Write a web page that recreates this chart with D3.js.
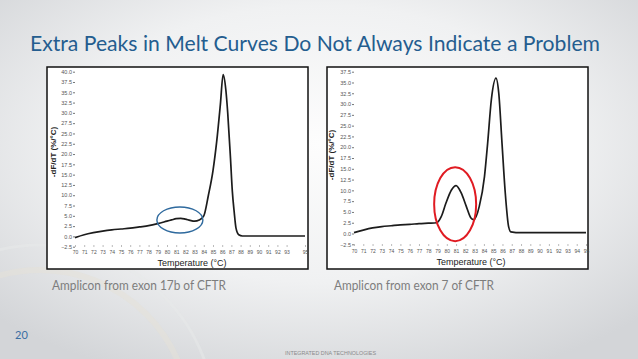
<!DOCTYPE html>
<html>
<head>
<meta charset="utf-8">
<script src="https://cdn.jsdelivr.net/npm/d3@7"></script>
<style>
  html, body { margin: 0; padding: 0; }
  body { width: 638px; height: 359px; overflow: hidden; }
</style>
</head>
<body>
<div id="slide"></div>
<script>
// exon 17b melt curve (left panel)
var leftTemps  = [70, 71, 72, 73, 74, 75, 76, 77, 78, 79, 80, 80.5, 81, 81.5, 82, 82.5, 83, 83.5, 84, 84.5, 85, 85.4, 85.8, 86.1, 86.4, 86.6, 86.9, 87.1, 87.3, 87.5, 87.8, 88.2, 90, 92, 95];
var leftValues = [-0.3, 0.4, 0.9, 1.3, 1.6, 1.8, 2.0, 2.3, 2.6, 3.1, 3.7, 4.0, 4.3, 4.4, 4.2, 3.9, 3.7, 4.0, 5.0, 10, 16, 23, 32, 39.3, 35.5, 30, 19, 11, 6, 2, 0.4, 0.1, 0.1, 0.1, 0.1];

// exon 7 melt curve (right panel)
var rightTemps  = [70, 71, 72, 73, 74, 75, 76, 77, 78, 78.9, 79.4, 79.9, 80.5, 81.0, 81.55, 82.1, 82.6, 82.9, 83.5, 84.06, 84.4, 84.8, 85.3, 85.6, 85.95, 86.3, 86.66, 86.9, 88, 91, 95];
var rightValues = [0.2, 0.8, 1.3, 1.6, 1.8, 2.0, 2.1, 2.3, 2.4, 2.5, 3.9, 7.0, 10.1, 11.1, 9.4, 6.3, 3.6, 3.2, 6.3, 13.2, 20.9, 31, 36.0, 32.5, 20.9, 9.4, 1.6, 0.4, 0.2, 0.2, 0.2];

var leftXTicks  = [70, 71, 72, 73, 74, 75, 76, 77, 78, 79, 80, 81, 82, 83, 84, 85, 86, 87, 88, 89, 90, 91, 92, 93, 95];
var rightXTicks = [70, 71, 72, 73, 74, 75, 76, 77, 78, 79, 80, 81, 82, 83, 84, 85, 86, 87, 88, 89, 90, 91, 92, 93, 94, 95];
var leftYTicks  = d3.range(-2.5, 40.01, 2.5);
var rightYTicks = d3.range(-2.5, 37.51, 2.5);

var titleText = "Extra Peaks in Melt Curves Do Not Always Indicate a Problem";
var captions  = ["Amplicon from exon 17b of CFTR", "Amplicon from exon 7 of CFTR"];

var w = 638, h = 359;

var svg = d3.select("#slide").append("svg")
  .attr("width", w)
  .attr("height", h);

// slide background
var defs = svg.append("defs");
var grad = defs.append("radialGradient")
  .attr("id", "bg")
  .attr("cx", "50%").attr("cy", "40%").attr("r", "70%");
grad.append("stop").attr("offset", "0%").attr("stop-color", "#fdfdfd");
grad.append("stop").attr("offset", "55%").attr("stop-color", "#f0f1f2");
grad.append("stop").attr("offset", "100%").attr("stop-color", "#d3d5d8");
svg.append("rect").attr("width", w).attr("height", h).attr("fill", "url(#bg)");

// faint arcs bottom left
svg.append("circle").attr("cx", 40).attr("cy", 420).attr("r", 150)
  .attr("fill", "none").attr("stroke", "#e6e2d8").attr("stroke-width", 6).attr("opacity", 0.5);
svg.append("circle").attr("cx", 40).attr("cy", 420).attr("r", 175)
  .attr("fill", "none").attr("stroke", "#e8e9ea").attr("stroke-width", 3).attr("opacity", 0.5);

svg.append("text")
  .attr("x", 30)
  .attr("y", 51)
  .attr("textLength", 570)
  .attr("lengthAdjust", "spacingAndGlyphs")
  .style("font-family", "Lato, 'Open Sans', sans-serif")
  .style("font-size", "21px")
  .style("fill", "#245d8f")
  .text(titleText);

function drawPanel(opts) {
  var g = svg.append("g");

  g.append("rect")
    .attr("x", opts.box[0])
    .attr("y", 67)
    .attr("width", opts.box[1] - opts.box[0])
    .attr("height", 202)
    .attr("fill", "white")
    .attr("stroke", "#111")
    .attr("stroke-width", 1.5);

  var x = d3.scaleLinear().domain([70, 95]).range(opts.xRange);
  var y = d3.scaleLinear().domain(opts.yDomain).range(opts.yRange);

  // y axis
  var yAxis = g.append("g")
    .attr("transform", "translate(" + x(70) + ",0)")
    .call(d3.axisLeft(y).tickValues(opts.yTicks).tickSize(2).tickPadding(1)
      .tickFormat(d3.format(".1f")));
  yAxis.select(".domain").remove();
  yAxis.selectAll("line").attr("stroke", "#777");
  yAxis.selectAll("text")
    .style("font-family", "'Liberation Sans', Arial, sans-serif")
    .style("font-size", "5.5px")
    .style("fill", "#555");

  // x axis
  var xAxis = g.append("g")
    .attr("transform", "translate(0," + opts.xAxisY + ")")
    .call(d3.axisBottom(x).tickValues(opts.xTicks).tickSize(2).tickPadding(3)
      .tickFormat(d3.format("d")));
  xAxis.select(".domain").remove();
  xAxis.selectAll("line").attr("stroke", "#bbb");
  xAxis.selectAll("text")
    .style("font-family", "'Liberation Sans', Arial, sans-serif")
    .style("font-size", "5px")
    .style("fill", "#555");

  g.append("text")
    .attr("x", opts.xTitle[0])
    .attr("y", opts.xTitle[1])
    .attr("text-anchor", "middle")
    .style("font-family", "'Liberation Sans', Arial, sans-serif")
    .style("font-size", "9px")
    .style("fill", "#222")
    .text("Temperature (°C)");

  g.append("text")
    .attr("transform", "translate(" + opts.yTitle[0] + "," + opts.yTitle[1] + ") rotate(-90)")
    .attr("text-anchor", "middle")
    .style("font-family", "'Liberation Sans', Arial, sans-serif")
    .style("font-size", "8px")
    .style("font-weight", "bold")
    .style("fill", "#222")
    .text("-dF/dT (%/°C)");

  var line = d3.line()
    .x(function(d) { return x(d[0]); })
    .y(function(d) { return y(d[1]); })
    .curve(d3.curveMonotoneX);

  var pts = d3.zip(opts.temps, opts.values);
  g.append("path")
    .datum(pts)
    .attr("d", line)
    .attr("fill", "none")
    .attr("stroke", "#1c1c1c")
    .attr("stroke-width", 1.7)
    .attr("stroke-linejoin", "round");

  // highlight ring
  g.append("ellipse")
    .attr("cx", x(opts.ring.t))
    .attr("cy", y(opts.ring.v))
    .attr("rx", opts.ring.rx)
    .attr("ry", opts.ring.ry)
    .attr("fill", "none")
    .attr("stroke", opts.ring.color)
    .attr("stroke-width", opts.ring.width);

  g.append("text")
    .attr("x", opts.caption[0])
    .attr("y", 290)
    .attr("textLength", opts.caption[1])
    .attr("lengthAdjust", "spacingAndGlyphs")
    .style("font-family", "Lato, 'Open Sans', sans-serif")
    .style("font-size", "12.5px")
    .style("fill", "#7d7d7d")
    .text(opts.caption[2]);
}

drawPanel({
  box: [47, 308],
  xRange: [75, 305],
  yDomain: [-2.5, 40],
  yRange: [246.7, 71.7],
  yTicks: leftYTicks,
  xTicks: leftXTicks,
  xAxisY: 245,
  xTitle: [192, 265.5],
  yTitle: [56, 152],
  temps: leftTemps,
  values: leftValues,
  ring: { t: 81.4, v: 4.0, rx: 23, ry: 13, color: "#2f6a9e", width: 1.4 },
  caption: [52, 174, captions[0]]
});

drawPanel({
  box: [327, 588],
  xRange: [354, 586],
  yDomain: [-2.5, 37.5],
  yRange: [244.3, 71.7],
  yTicks: rightYTicks,
  xTicks: rightXTicks,
  xAxisY: 244,
  xTitle: [471, 265],
  yTitle: [334, 155],
  temps: rightTemps,
  values: rightValues,
  ring: { t: 80.9, v: 6.8, rx: 21, ry: 37, color: "#e01b22", width: 2 },
  caption: [334, 160, captions[1]]
});

svg.append("text")
  .attr("x", 15)
  .attr("y", 339)
  .style("font-family", "Lato, 'Open Sans', sans-serif")
  .style("font-size", "11px")
  .style("fill", "#3b6fa3")
  .text("20");

svg.append("text")
  .attr("x", 285)
  .attr("y", 355)
  .attr("textLength", 91)
  .attr("lengthAdjust", "spacingAndGlyphs")
  .style("font-family", "'Liberation Sans', Arial, sans-serif")
  .style("font-size", "5px")
  .style("fill", "#8a8a8a")
  .text("INTEGRATED DNA TECHNOLOGIES");
</script>
</body>
</html>
